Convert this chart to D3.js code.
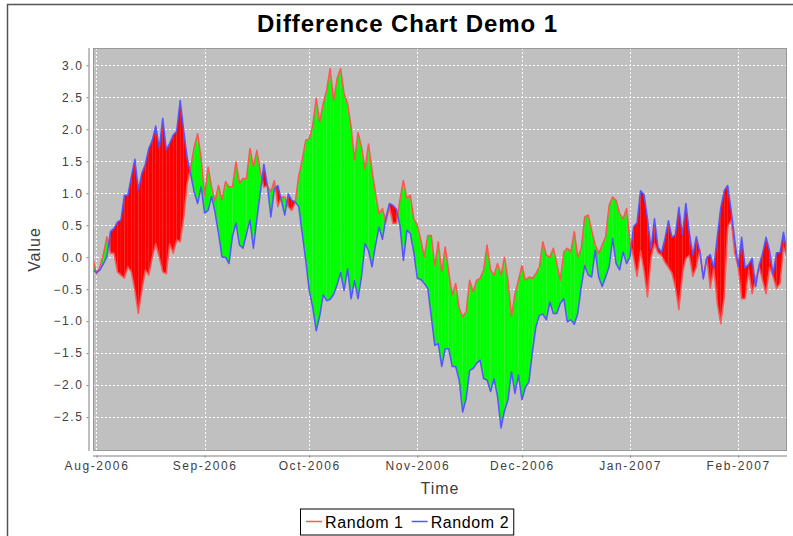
<!DOCTYPE html>
<html>
<head>
<meta charset="utf-8">
<script src="https://cdn.jsdelivr.net/npm/d3@7"></script>
<style>
  body { margin: 0; background: #fff; }
  svg { display: block; font-family: "Liberation Sans", Arial, sans-serif; }
</style>
</head>
<body>
<svg id="chart" width="793" height="536"></svg>
<script>

//============================================================
// Data (one value per day, 200 days from 31 Jul 2006)
//------------------------------------------------------------

var startDay = new Date(2006, 6, 31);

var random1 = [
  -0.02, -0.26, -0.15, 0.05, 0.32, 0.06, 0.06, -0.23, -0.28, -0.33,
  -0.15, -0.23, -0.52, -0.88, -0.52, -0.20, -0.28, 0.00, 0.21, 0.00,
  -0.23, -0.26, 0.21, 0.06, 0.27, 0.24, 0.62, 1.15, 1.40, 1.72,
  1.93, 1.55, 0.97, 1.41, 1.10, 0.88, 1.12, 0.90, 1.18, 1.10,
  1.10, 1.49, 1.16, 1.23, 1.23, 1.70, 1.42, 1.67, 1.33, 1.09,
  1.12, 1.02, 1.20, 0.79, 0.94, 0.94, 0.79, 0.73, 0.86, 1.28,
  1.52, 1.83, 1.85, 2.06, 2.48, 2.11, 2.40, 2.61, 2.95, 2.45,
  2.79, 2.95, 2.56, 2.40, 2.04, 1.52, 1.95, 1.72, 1.38, 1.77,
  1.36, 1.00, 0.68, 0.76, 0.55, 0.78, 0.53, 0.53, 0.89, 1.20,
  0.92, 0.97, 0.60, 0.50, 0.27, 0.01, 0.34, 0.34, -0.13, 0.24,
  -0.23, 0.16, -0.23, -0.59, -0.41, -0.80, -0.93, -0.85, -0.36, -0.54,
  -0.36, -0.33, -0.20, 0.19, -0.20, -0.28, -0.10, -0.28, 0.00, -0.36,
  -0.93, -0.57, -0.36, -0.13, -0.36, -0.31, -0.33, -0.26, -0.15, 0.24,
  0.03, 0.00, 0.14, -0.10, -0.36, 0.08, 0.14, 0.08, 0.40, 0.00,
  0.14, 0.63, 0.66, 0.42, 0.19, 0.06, 0.19, 0.32, 0.81, 0.94,
  0.89, 0.68, 0.60, 0.76, 0.24, 0.00, -0.30, 0.10, -0.21, -0.62,
  0.00, 0.21, 0.07, 0.03, -0.08, -0.16, -0.25, -0.47, -0.82, -0.26,
  -0.02, 0.03, -0.30, -0.15, 0.12, -0.32, 0.00, -0.49, -0.15, -0.72,
  -1.04, -0.62, 0.47, 0.58, 0.06, -0.15, -0.65, -0.65, -0.20, -0.57,
  -0.35, -0.15, -0.36, -0.57, -0.15, -0.30, -0.49, -0.41, 0.16, 0.00
];

var random2 = [
  -0.20, -0.24, -0.20, -0.10, 0.01, 0.40, 0.45, 0.55, 0.58, 0.97,
  0.97, 1.26, 1.53, 1.05, 1.31, 1.45, 1.70, 1.83, 2.05, 1.70,
  2.17, 1.68, 1.78, 1.91, 1.97, 2.45, 1.98, 1.55, 1.30, 1.02,
  0.84, 1.10, 0.69, 0.73, 0.95, 0.70, 0.37, 0.00, 0.00, -0.10,
  0.33, 0.53, 0.19, 0.14, 0.36, 0.58, 0.14, 0.60, 1.02, 1.45,
  1.12, 0.63, 1.07, 1.12, 0.89, 0.66, 0.99, 0.89, 0.86, 0.79,
  0.37, -0.05, -0.52, -0.78, -1.15, -0.92, -0.59, -0.68, -0.66, -0.58,
  -0.43, -0.24, -0.52, -0.18, -0.65, -0.37, -0.65, -0.30, 0.21, 0.10,
  -0.15, 0.18, 0.47, 0.28, 0.62, 0.84, 0.81, 0.75, 0.50, -0.05,
  0.42, 0.37, 0.07, -0.33, -0.35, -0.41, -0.49, -0.93, -1.38, -1.35,
  -1.71, -1.43, -1.43, -1.71, -1.71, -1.92, -2.42, -2.21, -1.77, -1.74,
  -1.66, -1.61, -1.90, -1.92, -2.10, -1.90, -2.18, -2.67, -2.40, -2.23,
  -1.79, -2.13, -1.84, -2.23, -2.03, -1.95, -1.48, -1.09, -0.91, -0.89,
  -0.98, -0.70, -0.88, -0.88, -0.72, -0.65, -1.01, -0.98, -1.05, -0.88,
  -0.46, -0.13, -0.28, -0.31, 0.11, -0.31, -0.46, -0.31, -0.15, 0.29,
  -0.10, -0.20, 0.08, -0.10, 0.01, 0.48, 0.54, 1.04, 0.98, 0.60,
  0.13, 0.60, 0.16, 0.07, 0.29, 0.57, 0.31, 0.35, 0.78, 0.35,
  0.84, 0.38, 0.03, 0.32, 0.09, -0.34, -0.01, 0.04, -0.17, 0.31,
  0.77, 1.04, 1.12, 0.73, 0.27, -0.14, 0.31, -0.17, -0.11, -0.02,
  -0.46, -0.13, 0.06, 0.31, 0.10, -0.27, 0.07, 0.07, 0.39, 0.05
];

var seriesNames = ['Random 1', 'Random 2'];
var yTickValues = [-2.5, -2.0, -1.5, -1.0, -0.5, 0.0, 0.5, 1.0, 1.5, 2.0, 2.5, 3.0];
var yRange = [-3.03, 3.27];

//============================================================
// Layout and styles
//------------------------------------------------------------

var plot = {left: 93, right: 787, top: 48, bottom: 451},
    axisGap = 4.5,
    lineColor = ['#ff5555', '#5555ff'],
    positivePaint = '#00ff00', // series 1 above series 2
    negativePaint = '#ff0000',
    textColor = '#404040';

var svg = d3.select('#chart');

var days = random1.map(function(d, i) { return d3.timeDay.offset(startDay, i); });

var x = d3.scaleTime()
      .domain([days[0], days[days.length - 1]])
      .range([plot.left, plot.right]);
var y = d3.scaleLinear()
      .domain(yRange)
      .range([plot.bottom, plot.top]);

//------------------------------------------------------------
// Panel frame (window edge seen in the screenshot)

svg.append('path')
  .attr('d', 'M7.5,536V4.5H793')
  .attr('fill', 'none')
  .attr('stroke', '#555')
  .attr('stroke-width', 1.5);

//------------------------------------------------------------
// Title

svg.append('text')
  .attr('x', 407.5)
  .attr('y', 32)
  .attr('text-anchor', 'middle')
  .style('font-size', '24px')
  .style('font-weight', 'bold')
  .style('letter-spacing', '0.9px')
  .attr('fill', '#000')
  .text('Difference Chart Demo 1');

//------------------------------------------------------------
// Plot background and grid

svg.append('defs').append('clipPath').attr('id', 'plot-clip')
  .append('rect')
    .attr('x', plot.left)
    .attr('y', plot.top)
    .attr('width', plot.right - plot.left)
    .attr('height', plot.bottom - plot.top);

svg.append('rect')
  .attr('x', plot.left)
  .attr('y', plot.top)
  .attr('width', plot.right - plot.left)
  .attr('height', plot.bottom - plot.top)
  .attr('fill', '#c0c0c0');

var monthTicks = x.ticks(d3.timeMonth.every(1));

var grid = svg.append('g').attr('class', 'grid')
  .attr('stroke', '#fff')
  .attr('stroke-width', 1)
  .attr('stroke-dasharray', '2,2');

grid.selectAll('line.gx').data(monthTicks).enter().append('line')
  .attr('class', 'gx')
  .attr('x1', function(d) { return Math.round(x(d)) + 0.5; })
  .attr('x2', function(d) { return Math.round(x(d)) + 0.5; })
  .attr('y1', plot.top)
  .attr('y2', plot.bottom);

grid.selectAll('line.gy').data(yTickValues).enter().append('line')
  .attr('class', 'gy')
  .attr('x1', plot.left)
  .attr('x2', plot.right)
  .attr('y1', function(d) { return Math.round(y(d)) + 0.5; })
  .attr('y2', function(d) { return Math.round(y(d)) + 0.5; });

//------------------------------------------------------------
// Difference areas, one polygon per day-to-day segment

var segments = [];
for (var i = 0; i < days.length - 1; i++) {
  var a0 = random1[i], a1 = random1[i + 1],
      b0 = random2[i], b1 = random2[i + 1],
      d0 = a0 - b0, d1 = a1 - b1,
      x0 = x(days[i]), x1 = x(days[i + 1]);
  if (d0 * d1 >= 0) {
    segments.push({
      positive: (d0 + d1) > 0,
      points: [[x0, y(a0)], [x1, y(a1)], [x1, y(b1)], [x0, y(b0)]]
    });
  } else {
    // the two series cross inside this segment
    var t = d0 / (d0 - d1),
        xc = x0 + t * (x1 - x0),
        yc = y(a0 + t * (a1 - a0));
    segments.push({positive: d0 > 0, points: [[x0, y(a0)], [xc, yc], [x0, y(b0)]]});
    segments.push({positive: d1 > 0, points: [[xc, yc], [x1, y(a1)], [x1, y(b1)]]});
  }
}

var body = svg.append('g').attr('clip-path', 'url(#plot-clip)');

body.append('g').attr('class', 'areas')
  .selectAll('path').data(segments).enter().append('path')
    .attr('d', function(d) { return 'M' + d.points.join('L') + 'Z'; })
    .attr('fill', function(d) { return d.positive ? positivePaint : negativePaint; });

var line = d3.line()
      .x(function(d, i) { return x(days[i]); })
      .y(function(d) { return y(d); });

body.selectAll('path.series').data([random1, random2]).enter().append('path')
  .attr('class', 'series')
  .attr('d', line)
  .attr('fill', 'none')
  .attr('stroke', function(d, i) { return lineColor[i]; })
  .attr('stroke-width', 1.5)
  .attr('stroke-linejoin', 'round');

// plot outline
svg.append('rect')
  .attr('x', plot.left + 0.5)
  .attr('y', plot.top + 0.5)
  .attr('width', plot.right - plot.left - 1)
  .attr('height', plot.bottom - plot.top - 1)
  .attr('fill', 'none')
  .attr('stroke', '#999')
  .attr('stroke-width', 1);

//------------------------------------------------------------
// Axes

var yAxisX = plot.left - axisGap,
    xAxisY = plot.bottom + axisGap;

var yAxis = d3.axisLeft(y)
      .tickValues(yTickValues)
      .tickFormat(d3.format('.1f'))
      .tickSizeInner(2)
      .tickSizeOuter(0)
      .tickPadding(3);

var gy = svg.append('g')
  .attr('transform', 'translate(' + yAxisX + ',0)')
  .call(yAxis);

var xAxis = d3.axisBottom(x)
      .tickValues(monthTicks)
      .tickFormat(d3.timeFormat('%b-%Y'))
      .tickSizeInner(2)
      .tickSizeOuter(0)
      .tickPadding(4);

var gx = svg.append('g')
  .attr('transform', 'translate(0,' + xAxisY + ')')
  .call(xAxis);

[gx, gy].forEach(function(g) {
  g.select('.domain').attr('stroke', '#808080');
  g.selectAll('.tick line').attr('stroke', '#808080');
  g.selectAll('.tick text')
    .attr('fill', textColor)
    .style('font-family', '"Liberation Sans", Arial, sans-serif')
    .style('font-size', '12px')
    .style('letter-spacing', '1.6px');
});
// the y axis line stays on the plot's own height
gy.select('.domain').attr('d', 'M0.5,' + plot.top + 'V' + plot.bottom);
gx.select('.domain').attr('d', 'M' + plot.left + ',0.5H' + plot.right);

svg.append('text')
  .attr('x', (plot.left + plot.right) / 2)
  .attr('y', 494)
  .attr('text-anchor', 'middle')
  .attr('fill', textColor)
  .style('font-size', '16px')
  .style('letter-spacing', '1px')
  .text('Time');

svg.append('text')
  .attr('transform', 'translate(40,' + (plot.top + plot.bottom) / 2 + ') rotate(-90)')
  .attr('text-anchor', 'middle')
  .attr('fill', textColor)
  .style('font-size', '16px')
  .style('letter-spacing', '1px')
  .text('Value');

//------------------------------------------------------------
// Legend

var legend = svg.append('g').attr('class', 'legend');
var legendBox = legend.append('rect')
  .attr('fill', '#fff')
  .attr('stroke', '#000')
  .attr('stroke-width', 1);

var cursor = 0;
seriesNames.forEach(function(name, i) {
  var item = legend.append('g').attr('transform', 'translate(' + cursor + ',0)');
  item.append('line')
    .attr('x1', 0).attr('x2', 16)
    .attr('y1', 0).attr('y2', 0)
    .attr('stroke', lineColor[i])
    .attr('stroke-width', 1.5);
  var label = item.append('text')
    .attr('x', 19)
    .attr('y', 6)
    .attr('fill', '#000')
    .style('font-size', '16px')
    .style('letter-spacing', '0.6px')
    .text(name);
  cursor += 19 + label.node().getComputedTextLength() + 8;
});
var legendWidth = cursor - 8 + 10;
legendBox
  .attr('x', -5.5)
  .attr('y', -12.5)
  .attr('width', legendWidth)
  .attr('height', 26);
legend.attr('transform', 'translate(' + Math.round(407.5 - legendWidth / 2 + 5) + ',521.5)');

</script>
</body>
</html>
